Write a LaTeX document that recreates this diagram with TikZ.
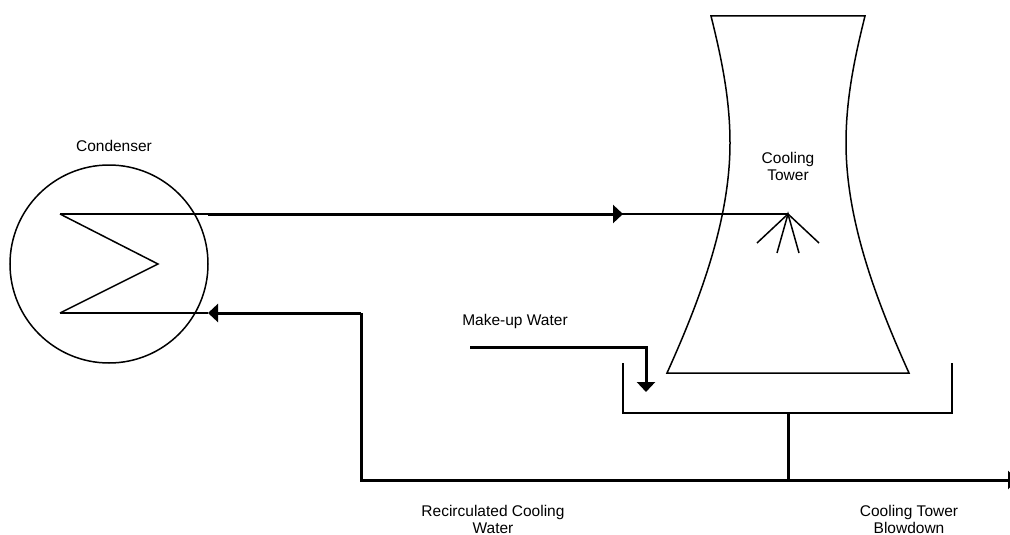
\documentclass[tikz,border=0pt]{standalone}
\usepackage{fontspec}
\setmainfont{Liberation Sans}
\usetikzlibrary{arrows.meta}
\tikzset{
  thinline/.style={line width=1.5pt},
  thickline/.style={line width=3pt},
  tip/.style={-{Triangle[length=10pt,width=18pt]}},
  lbl/.style={font=\fontsize{15.5}{17}\selectfont, align=center, inner sep=0pt},
}
\begin{document}
\begin{tikzpicture}[x=1pt,y=-1pt]
\clip (0,0) rectangle (1010,535);
\fill[white] (0,0) rectangle (1010,535);
% condenser
\node[circle, draw, thinline, minimum size=198pt, inner sep=0pt] (cond) at (109,264) {};
\node[lbl] (condlbl) at (114,146) {Condenser};
\coordinate (zin) at (60,214);
\coordinate (zmid) at (158,264);
\coordinate (zout) at (60,313);
\draw[thinline, line join=miter] (zin) -- (zmid) -- (zout);
% tower
\coordinate (tTL) at (711,16);
\coordinate (tTR) at (865,16);
\coordinate (tBL) at (667,373);
\coordinate (tBR) at (909,373);
\draw[thinline, line join=miter] (tBL) .. controls (700,300) and (730,220) .. (730,143)
  .. controls (730,100) and (722,60) .. (tTL) -- (tTR)
  .. controls (854,60) and (846,100) .. (846,143)
  .. controls (846,220) and (876,300) .. (tBR) -- cycle;
\node[lbl] (towerlbl) at (788,166) {Cooling\\Tower};
% spray
\coordinate (spray) at (788,214);
\coordinate (r1) at (757,243);
\coordinate (r2) at (777,253);
\coordinate (r3) at (799,253);
\coordinate (r4) at (819,243);
\draw[thinline] (r1) -- (spray) -- (r4);
\draw[thinline] (r2) -- (spray) -- (r3);
% hot water line
\coordinate (hotA) at (208,214);
\coordinate (hotB) at (623,214);
\draw[thinline] (zin) -- (spray);
\draw[thickline, tip] (hotA) -- (hotB);
% return line
\coordinate (retA) at (208,313);
\coordinate (retC) at (361,313);
\coordinate (retD) at (361,480);
\coordinate (junc) at (788,480);
\coordinate (bdEnd) at (1018,480);
\draw[thinline] (zout) -- (retA);
\draw[thickline, tip] (retC) -- (retA);
\draw[thickline, line join=miter] (retC) -- (retD) -- (junc);
\draw[thickline, tip] (junc) -- (bdEnd);
% basin
\coordinate (bL) at (623,363);
\coordinate (bLb) at (623,413);
\coordinate (bRb) at (952,413);
\coordinate (bR) at (952,363);
\coordinate (bMid) at (788,413);
\draw[thinline] (bL) -- (bLb) -- (bRb) -- (bR);
\draw[thickline] (bMid) -- (junc);
% make-up water
\coordinate (muA) at (470,347);
\coordinate (muB) at (646,347);
\coordinate (muC) at (646,392);
\draw[thickline, line join=miter, tip] (muA) -- (muB) -- (muC);
\node[lbl] (mulbl) at (515,321) {Make-up Water};
% bottom labels
\node[lbl] (reclbl) at (493,519) {Recirculated Cooling\\Water};
\node[lbl] (bdlbl) at (909,519) {Cooling Tower\\Blowdown};
\end{tikzpicture}
\end{document}
